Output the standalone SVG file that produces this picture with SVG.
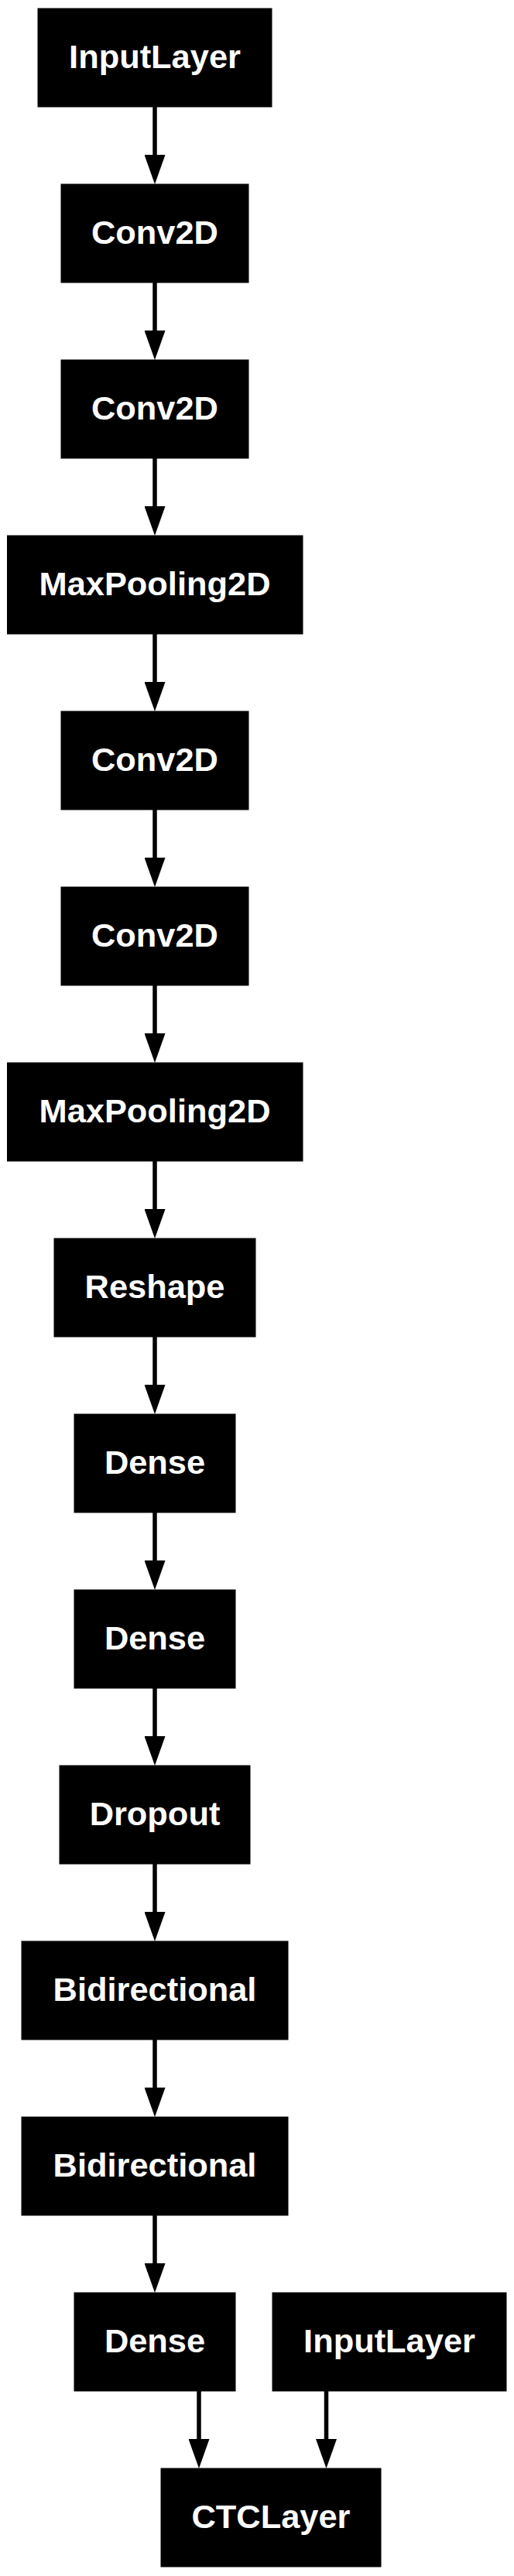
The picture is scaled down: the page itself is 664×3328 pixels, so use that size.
<svg xmlns="http://www.w3.org/2000/svg" width="664" height="3328" viewBox="0 0 664 3328">
<defs>
<style>
.box{fill:#000;stroke:#000;stroke-width:1}
.lbl{fill:#fff;font-family:"Liberation Sans",Arial,Helvetica,sans-serif;font-weight:bold;font-size:43.4px;text-anchor:middle}
.edge{stroke:#000;stroke-width:5.5;fill:none}
</style>
<marker id="ah" viewBox="0 0 38 27" refX="0" refY="13.5" markerWidth="38" markerHeight="27" markerUnits="userSpaceOnUse" orient="auto">
<path d="M0,0 L38,13.5 L0,27 Z" fill="#000"/>
</marker>
</defs>
<rect width="664" height="3328" fill="#fff"/>
<g id="edges">
<line class="edge" x1="200" y1="138" x2="200" y2="200" marker-end="url(#ah)"/>
<line class="edge" x1="200" y1="365" x2="200" y2="427" marker-end="url(#ah)"/>
<line class="edge" x1="200" y1="592" x2="200" y2="654" marker-end="url(#ah)"/>
<line class="edge" x1="200" y1="819" x2="200" y2="881" marker-end="url(#ah)"/>
<line class="edge" x1="200" y1="1046" x2="200" y2="1108" marker-end="url(#ah)"/>
<line class="edge" x1="200" y1="1273" x2="200" y2="1335" marker-end="url(#ah)"/>
<line class="edge" x1="200" y1="1500" x2="200" y2="1562" marker-end="url(#ah)"/>
<line class="edge" x1="200" y1="1727" x2="200" y2="1789" marker-end="url(#ah)"/>
<line class="edge" x1="200" y1="1954" x2="200" y2="2016" marker-end="url(#ah)"/>
<line class="edge" x1="200" y1="2181" x2="200" y2="2243" marker-end="url(#ah)"/>
<line class="edge" x1="200" y1="2408" x2="200" y2="2470" marker-end="url(#ah)"/>
<line class="edge" x1="200" y1="2635" x2="200" y2="2697" marker-end="url(#ah)"/>
<line class="edge" x1="200" y1="2862" x2="200" y2="2924" marker-end="url(#ah)"/>
<line class="edge" x1="257" y1="3089" x2="257" y2="3151" marker-end="url(#ah)"/>
<line class="edge" x1="421.5" y1="3089" x2="421.5" y2="3151" marker-end="url(#ah)"/>
</g>
<g id="n1"><rect class="box" x="49" y="11" width="302" height="127"/><text class="lbl" x="200" y="87.5">InputLayer</text></g>
<g id="n2"><rect class="box" x="79" y="238" width="242" height="127"/><text class="lbl" x="200" y="314.5">Conv2D</text></g>
<g id="n3"><rect class="box" x="79" y="465" width="242" height="127"/><text class="lbl" x="200" y="541.5">Conv2D</text></g>
<g id="n4"><rect class="box" x="9.5" y="692" width="381.5" height="127"/><text class="lbl" x="200" y="768.5">MaxPooling2D</text></g>
<g id="n5"><rect class="box" x="79" y="919" width="242" height="127"/><text class="lbl" x="200" y="995.5">Conv2D</text></g>
<g id="n6"><rect class="box" x="79" y="1146" width="242" height="127"/><text class="lbl" x="200" y="1222.5">Conv2D</text></g>
<g id="n7"><rect class="box" x="9.5" y="1373" width="381.5" height="127"/><text class="lbl" x="200" y="1449.5">MaxPooling2D</text></g>
<g id="n8"><rect class="box" x="70" y="1600" width="260" height="127"/><text class="lbl" x="200" y="1676.5">Reshape</text></g>
<g id="n9"><rect class="box" x="96" y="1827" width="208" height="127"/><text class="lbl" x="200" y="1903.5">Dense</text></g>
<g id="n10"><rect class="box" x="96" y="2054" width="208" height="127"/><text class="lbl" x="200" y="2130.5">Dense</text></g>
<g id="n11"><rect class="box" x="77" y="2281" width="246" height="127"/><text class="lbl" x="200" y="2357.5">Dropout</text></g>
<g id="n12"><rect class="box" x="28" y="2508" width="344" height="127"/><text class="lbl" x="200" y="2584.5">Bidirectional</text></g>
<g id="n13"><rect class="box" x="28" y="2735" width="344" height="127"/><text class="lbl" x="200" y="2811.5">Bidirectional</text></g>
<g id="n14"><rect class="box" x="96" y="2962" width="208" height="127"/><text class="lbl" x="200" y="3038.5">Dense</text></g>
<g id="n15"><rect class="box" x="352" y="2962" width="302" height="127"/><text class="lbl" x="503" y="3038.5">InputLayer</text></g>
<g id="n16"><rect class="box" x="208" y="3189" width="284" height="127"/><text class="lbl" x="350" y="3265.5">CTCLayer</text></g>
</svg>
